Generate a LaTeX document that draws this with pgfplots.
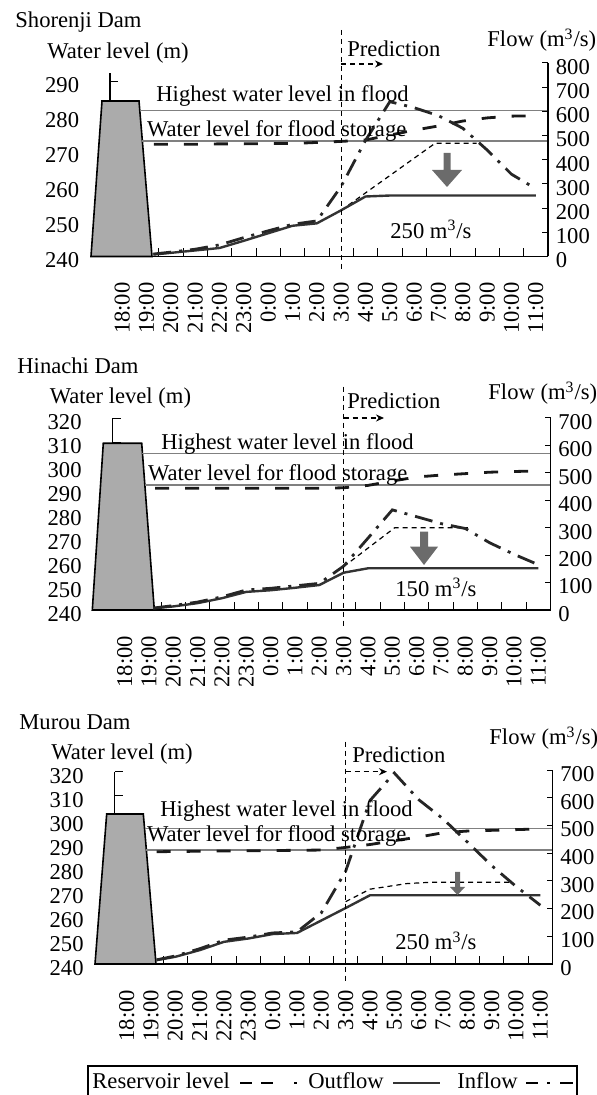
\documentclass[border=0pt]{standalone}
\usepackage{fontspec}
\setmainfont{Liberation Serif}
\usepackage{pgfplots}
\pgfplotsset{compat=1.18}
\usetikzlibrary{arrows.meta}

\pgfplotsset{
  base/.style={scale only axis, width=219pt, xmin=-0.5, xmax=17.5, clip=false,
    tick align=inside, /pgf/number format/assume math mode=true,
    tick style={black, line width=0.5pt}, axis line style={line width=0.6pt}},
  levelaxis/.style={base, axis x line*=bottom, axis y line*=left,
    major tick length=4pt,
    xtick={-0.5,0.5,...,17.5}, x tick label as interval,
    xticklabels={18:00,19:00,20:00,21:00,22:00,23:00,0:00,1:00,2:00,3:00,4:00,5:00,6:00,7:00,8:00,9:00,10:00,11:00},
    xticklabel style={yshift=-9pt, rotate=90, anchor=east},
    yticklabel style={xshift=-11.5pt, yshift=-2pt}},
  flowaxis/.style={base, axis x line=none, xtick=\empty, axis y line*=right,
    major tick length=3pt, ymin=0, yticklabel style={yshift=-2pt}},
  dam/.style={fill=black!33, draw=black, line width=0.8pt},
  hline/.style={line width=0.6pt, black!50},
  resv/.style={line width=1.4pt, black!90, dash pattern=on 7pt off 8pt},
  outf/.style={line width=1.2pt, black!80},
  infl/.style={line width=1.4pt, black!85, dash pattern=on 9pt off 4pt on 1.5pt off 4pt},
  thinp/.style={line width=0.6pt, black, dash pattern=on 2.5pt off 2pt},
}
\tikzset{
  vdash/.style={line width=0.7pt, dash pattern=on 2.5pt off 2pt},
  parr/.style={line width=0.8pt, dash pattern=on 2.5pt off 2pt, -{Stealth[length=4pt,width=3.5pt]}},
  txt/.style={inner sep=0pt, anchor=base west},
}

\begin{document}
\fontsize{11.3}{13.6}\selectfont
\begin{tikzpicture}
\useasboundingbox (0,0) rectangle (298pt,547.5pt);

% ---------------- Shorenji Dam ----------------
\begin{axis}[levelaxis, at={(55pt,419.25pt)}, anchor=south west, height=91.75pt,
  ymin=240, ymax=292.3, ytick={240,250,...,290}]
  \addplot[dam] coordinates {(-1.281,240) (-0.829,284.3) (0.692,284.3) (1.226,240)} -- cycle;
  \addplot[hline] coordinates {(0.723,281.7) (17.5,281.7)};
  \addplot[hline] coordinates {(0.829,272.9) (17.5,272.9)};
  \addplot[resv] coordinates {(1.3,272.0) (2,272.0) (3,272.0) (4,272.1) (5,272.1) (6,272.2) (7,272.2) (8,272.5) (9,272.8) (10,273.2) (11,274.6) (12,276.0) (13,277.2) (14,278.6) (15,279.5) (16,280.0) (17,280.1)};
\end{axis}
\begin{axis}[flowaxis, at={(55pt,419.25pt)}, anchor=south west, height=96.75pt,
  ymax=800, ytick={0,100,...,800}]
  \addplot[thinp] coordinates {(9,191) (12.86,468) (14.57,468)};
  \addplot[outf] coordinates {(1.28,8) (2,15) (3,25) (4,35) (5,65) (6,96) (7,127) (8,137) (9,191) (10,248) (11,252) (12,252) (13,252) (14,252) (15,252) (16,252) (17,252)};
  \addplot[infl] coordinates {(1.28,10) (2,18) (3,30) (4,48) (5,78) (6,106) (7,133) (8,147) (9,290) (10,480) (11,640) (12,615) (13,582) (14,530) (15,440) (16,340) (17,280)};
\end{axis}

% ---------------- Hinachi Dam ----------------
\begin{axis}[levelaxis, at={(56.25pt,242.5pt)}, anchor=south west, height=95.85pt,
  ymin=240, ymax=320, ytick={240,250,...,320}]
  \addplot[dam] coordinates {(-1.330,240) (-0.878,309.6) (0.700,309.6) (1.218,240)} -- cycle;
  \addplot[hline] coordinates {(0.731,305.4) (17.5,305.4)};
  \addplot[hline] coordinates {(0.830,292.2) (17.5,292.2)};
  \addplot[resv] coordinates {(1.25,290.8) (2,290.8) (3,290.8) (4,290.8) (5,290.8) (6,290.8) (7,290.8) (8,290.8) (9,291.0) (10,292.0) (11,293.8) (12,295.5) (13,296.3) (14,296.9) (15,297.5) (16,297.8) (17,298.0)};
\end{axis}
\begin{axis}[flowaxis, at={(56.25pt,242.5pt)}, anchor=south west, height=96pt,
  ymax=700, ytick={0,100,...,700}]
  \addplot[thinp] coordinates {(9,158) (11.1,300) (14.1,300)};
  \addplot[outf] coordinates {(1.18,6) (2,13) (3,25) (4,43) (5,66) (6,72) (7,81) (8,91) (9,136) (10,152) (11,152) (12,152) (13,152) (14,152) (15,152) (16,152) (17,152)};
  \addplot[infl] coordinates {(1.18,7) (2,16) (3,29) (4,48) (5,73) (6,79) (7,88) (8,97) (9,160) (10,262) (11,365) (12,340) (13,315) (14,297) (15,245) (16,203) (17,165)};
\end{axis}

% ---------------- Murou Dam ----------------
\begin{axis}[levelaxis, at={(57.25pt,65.5pt)}, anchor=south west, height=96.15pt,
  ymin=240, ymax=320, ytick={240,250,...,320}]
  \addplot[dam] coordinates {(-1.301,240) (-0.821,302.4) (0.684,302.4) (1.206,240)} -- cycle;
  \addplot[hline] coordinates {(0.734,296.4) (17.5,296.4)};
  \addplot[hline] coordinates {(0.810,287.4) (17.5,287.4)};
  \addplot[resv] coordinates {(1.23,286.7) (2,286.8) (3,286.9) (4,287.0) (5,287.1) (6,287.2) (7,287.3) (8,287.4) (9,288.5) (10,289.7) (11,291.3) (12,292.8) (13,294.6) (14,295.3) (15,295.6) (16,295.9) (17,296.2)};
\end{axis}
\begin{axis}[flowaxis, at={(57.25pt,65.5pt)}, anchor=south west, height=97pt,
  ymax=700, ytick={0,100,...,700}]
  \addplot[thinp] coordinates {(9,225) (10,270) (11.5,290) (12.5,295) (15.75,295)};
  \addplot[outf] coordinates {(1.23,14) (2,26) (3,50) (4,80) (5,92) (6,108) (7,112) (8,157) (9,202) (10,248) (11,248) (12,248) (13,248) (14,248) (15,248) (16,248) (17,248)};
  \addplot[infl] coordinates {(1.23,15) (2,29) (3,55) (4,86) (5,97) (6,112) (7,116) (8,185) (9,335) (10,590) (11,689) (12,593) (13,524) (14,440) (15,355) (16,280) (17,212)};
\end{axis}

% ---------------- annotations (pixel frame, origin top-left) ----------------
\begin{scope}[x=0.5pt, y=-0.5pt, yshift=547.5pt]
  % panel 1
  \node[txt] at (15,28) {Shorenji Dam};
  \node[txt] at (47,59) {Water level (m)};
  \node[txt] at (487,47) {Flow (m\textsuperscript{3}/s)};
  \node[txt] at (347,57) {Prediction};
  \draw[vdash] (341.2,30) -- (341.2,272);
  \draw[parr] (341.2,64) -- (383,64);
  \node[txt] at (156,101.7) {Highest water level in flood};
  \node[txt] at (146.7,136.7) {Water level for flood storage};
  \node[txt] at (390,238.3) {250 m\textsuperscript{3}/s};
  \fill[black!58] (443.5,153) -- (450.5,153) -- (450.5,170) -- (462,170) -- (447,187) -- (432,170) -- (443.5,170) -- cycle;
  % panel 2
  \node[txt] at (17,373.3) {Hinachi Dam};
  \node[txt] at (49.4,403.3) {Water level (m)};
  \node[txt] at (488,400) {Flow (m\textsuperscript{3}/s)};
  \node[txt] at (347,409) {Prediction};
  \draw[vdash] (343.7,386.7) -- (343.7,628);
  \draw[parr] (343.7,418) -- (384,418);
  \node[txt] at (161,450) {Highest water level in flood};
  \node[txt] at (147.7,481) {Water level for flood storage};
  \node[txt] at (395,596.7) {150 m\textsuperscript{3}/s};
  \fill[black!58] (420,531.7) -- (428,531.7) -- (428,546.7) -- (438,546.7) -- (424,565) -- (410,546.7) -- (420,546.7) -- cycle;
  % panel 3
  \node[txt] at (19,730) {Murou Dam};
  \node[txt] at (51,760) {Water level (m)};
  \node[txt] at (489,745) {Flow (m\textsuperscript{3}/s)};
  \node[txt] at (352,762.3) {Prediction};
  \draw[vdash] (345.7,741.7) -- (345.7,983.3);
  \draw[parr] (345.7,771.7) -- (387,771.7);
  \node[txt] at (160,816.7) {Highest water level in flood};
  \node[txt] at (146.7,841.7) {Water level for flood storage};
  \node[txt] at (395,950) {250 m\textsuperscript{3}/s};
  \fill[black!58] (455,872) -- (460,872) -- (460,887) -- (465,887) -- (457.5,895) -- (450,887) -- (455,887) -- cycle;
  % legend
  \draw[line width=0.6pt] (88,1066) rectangle (577,1115);
  \node[txt] at (92,1088.3) {Reservoir level};
  \draw[line width=1.4pt] (240,1083) -- (252,1083) (261,1083) -- (272.5,1083) (294,1083) -- (296.5,1083);
  \node[txt] at (308,1088.3) {Outflow};
  \draw[line width=1.2pt, black!80] (393,1083) -- (440,1083);
  \node[txt] at (457,1088.3) {Inflow};
  \draw[line width=1.4pt] (526,1083) -- (538,1083) (547,1083) -- (550,1083) (560,1083) -- (573,1083);
\end{scope}
\end{tikzpicture}
\end{document}
